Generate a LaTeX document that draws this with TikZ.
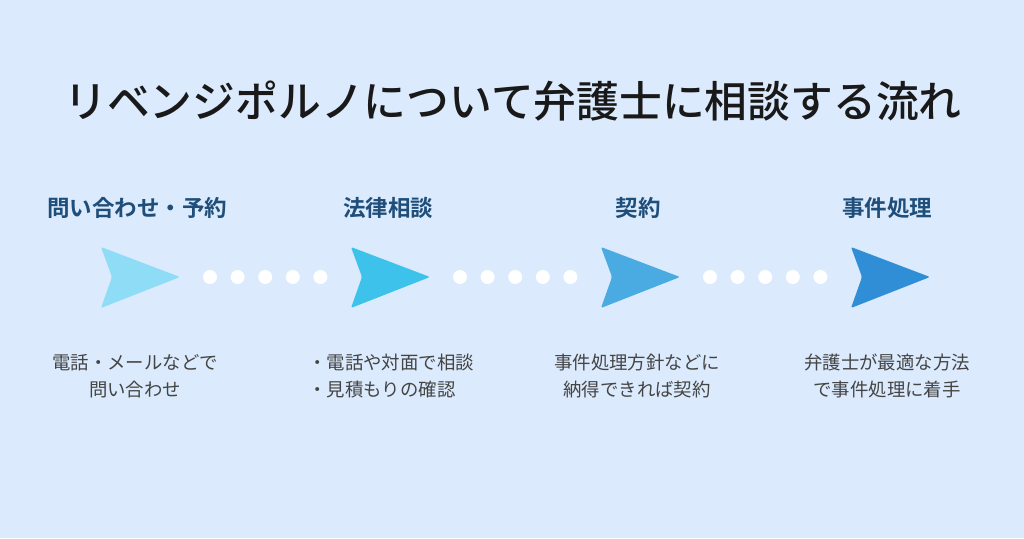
\documentclass[tikz,border=0pt]{standalone}
\usepackage{fontspec}
\newfontfamily\cjk{Noto Sans CJK JP}[BoldFont={Noto Sans CJK JP Bold}]
\newfontfamily\cjkmed{Noto Sans CJK JP Medium}
\usepackage{xcolor}
\usetikzlibrary{positioning}
\definecolor{bgblue}{HTML}{DBEAFC}
\definecolor{navy}{HTML}{1F4E7A}
\definecolor{descgray}{HTML}{444444}
\definecolor{arrA}{HTML}{8EDCF6}
\definecolor{arrB}{HTML}{3DC3EB}
\definecolor{arrC}{HTML}{4AABE2}
\definecolor{arrD}{HTML}{2F8ED6}
\tikzset{
    maintitle/.style={font=\cjkmed\fontsize{42.8}{46}\selectfont, text=black!90, inner sep=0pt},
    steptitle/.style={font=\cjk\bfseries\fontsize{22.5}{26}\selectfont, text=navy, inner sep=0pt},
    desc/.style={font=\cjk\fontsize{18.4}{27}\selectfont, text=descgray, align=center, inner sep=0pt},
    chev/.style={rounded corners=2pt},
    dot/.style={circle, fill=white, minimum size=14pt, inner sep=0pt}
}

\begin{document}
\begin{tikzpicture}[x=1pt, y=-1pt]
% ── Background ────────────────────────────────────────────────────────
\fill[bgblue] (0,0) rectangle (1024,538);
\useasboundingbox (0,0) rectangle (1024,538);

% ── Title ─────────────────────────────────────────────────────────────
\node[maintitle] at (513,101) (title) {リベンジポルノについて弁護士に相談する流れ};

% ── Step titles ───────────────────────────────────────────────────────
\node[steptitle] at (137,208) (s1) {問い合わせ・予約};
\node[steptitle] at (388,208) (s2) {法律相談};
\node[steptitle] at (638,208) (s3) {契約};
\node[steptitle] at (887,208) (s4) {事件処理};

% ── Arrows ────────────────────────────────────────────────────────────
\fill[arrA, chev] (101,247) -- (180,277) -- (101,308) -- (112,277) -- cycle;
\fill[arrB, chev] (351,247) -- (430,277) -- (351,308) -- (362,277) -- cycle;
\fill[arrC, chev] (601,247) -- (680,277) -- (601,308) -- (612,277) -- cycle;
\fill[arrD, chev] (851,247) -- (930,277) -- (851,308) -- (862,277) -- cycle;

% ── Dots between arrows ───────────────────────────────────────────────
\foreach \x in {0,250,500}
  \foreach \d in {0,1,2,3,4}
    \node[dot] at (210+\x+27.6*\d,277) {};

% ── Descriptions ──────────────────────────────────────────────────────
\node[desc] at (135,376) (d1) {電話・メールなどで\\問い合わせ};
\node[desc, align=left] at (391,376) (d2) {・電話や対面で相談\\・見積もりの確認};
\node[desc] at (637,376) (d3) {事件処理方針などに\\納得できれば契約};
\node[desc] at (887,376) (d4) {弁護士が最適な方法\\で事件処理に着手};
\end{tikzpicture}
\end{document}
